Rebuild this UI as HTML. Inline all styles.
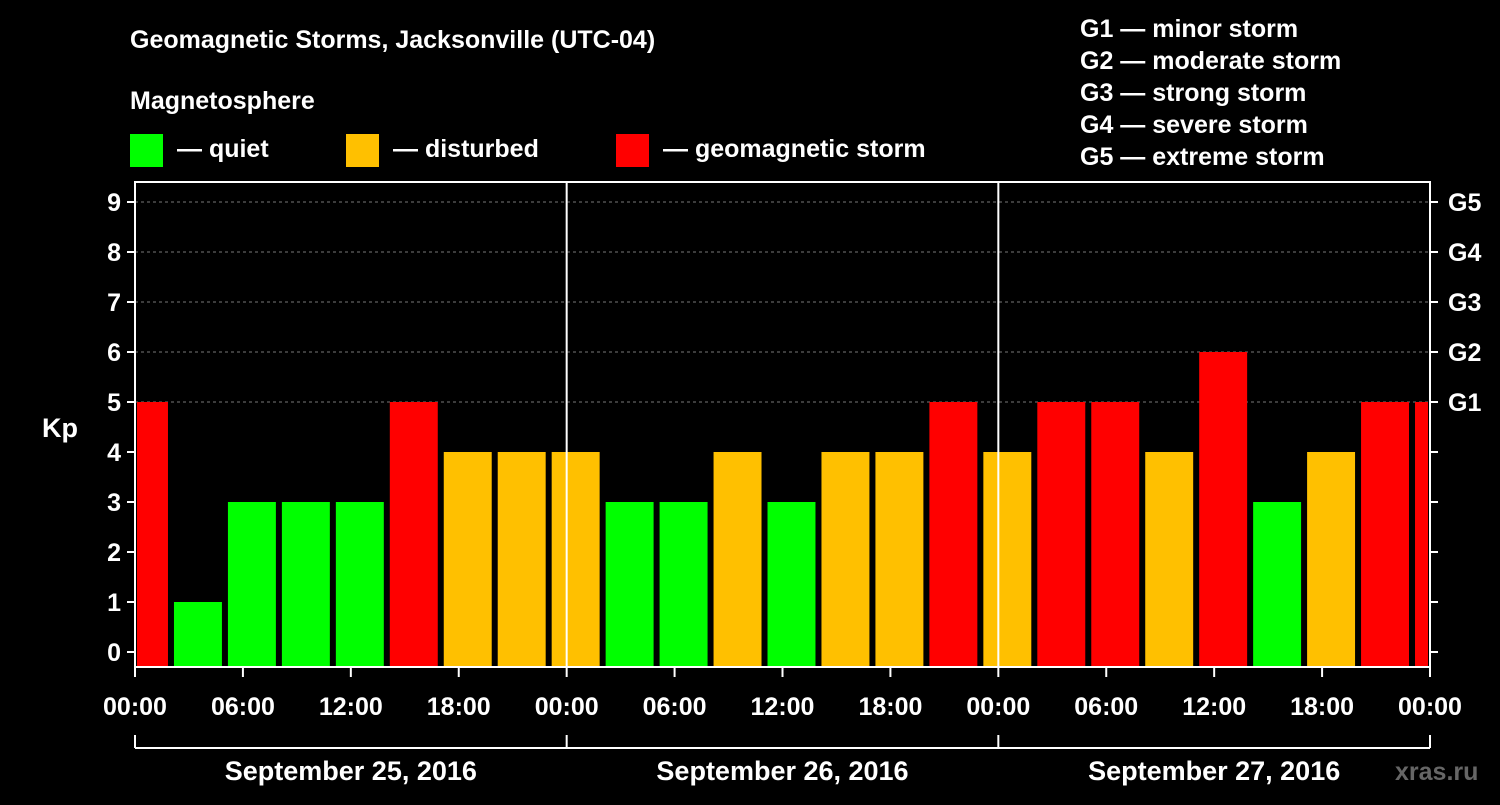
<!DOCTYPE html>
<html><head><meta charset="utf-8"><style>
body{margin:0;background:#000;width:1500px;height:800px;overflow:hidden}
text{font-family:"Liberation Sans",Arial,sans-serif;font-weight:bold;fill:#fff}
</style></head><body>
<svg id="chart" width="1500" height="800" xmlns="http://www.w3.org/2000/svg">
<text x="130" y="48" font-size="25">Geomagnetic Storms, Jacksonville (UTC-04)</text>
<text x="130" y="109" font-size="25">Magnetosphere</text>
<rect x="130" y="134" width="33" height="33" fill="#00ff00"/>
<text x="177" y="157" font-size="25">— quiet</text>
<rect x="346" y="134" width="33" height="33" fill="#ffc000"/>
<text x="393" y="157" font-size="25">— disturbed</text>
<rect x="616" y="134" width="33" height="33" fill="#ff0000"/>
<text x="663" y="157" font-size="25">— geomagnetic storm</text>
<g font-size="25">
<text x="1080" y="37">G1 — minor storm</text>
<text x="1080" y="69">G2 — moderate storm</text>
<text x="1080" y="101">G3 — strong storm</text>
<text x="1080" y="133">G4 — severe storm</text>
<text x="1080" y="165">G5 — extreme storm</text>
</g>
<g id="grid"></g><g id="bars"></g><g id="axes"></g>
<text x="42" y="437" font-size="27">Kp</text>
<text x="1395" y="780" font-size="25" fill="#666" style="fill:#666">xras.ru</text>
</svg>
<script>
const kpValues=[5,1,3,3,3,5,4,4,4,3,3,4,3,4,4,5,4,5,5,4,6,3,4,5,5];
const binStartHours=[-1,2,5,8,11,14,17,20,23,26,29,32,35,38,41,44,47,50,53,56,59,62,65,68,71];
const kpTicks=[0,1,2,3,4,5,6,7,8,9];
const gLabels=["G1","G2","G3","G4","G5"];
const timeLabels=["00:00","06:00","12:00","18:00","00:00","06:00","12:00","18:00","00:00","06:00","12:00","18:00","00:00"];
const dayLabels=["September 25, 2016","September 26, 2016","September 27, 2016"];
const X0=135,X1=1430,YT=182,YB=667;
const x=h=>X0+h*(X1-X0)/72;
const y=k=>652-50*k;
const NS="http://www.w3.org/2000/svg";
function mk(p,t,a){const e=document.createElementNS(NS,t);for(const k in a)e.setAttribute(k,a[k]);p.appendChild(e);return e;}
const grid=document.getElementById('grid'),bars=document.getElementById('bars'),axes=document.getElementById('axes');
for(let k=5;k<=9;k++){const l=mk(grid,'line',{x1:X0,x2:X1,y1:y(k),y2:y(k),stroke:'#777','stroke-dasharray':'3,3'});

}
kpValues.forEach((v,i)=>{
 let a=x(binStartHours[i])+3,b=x(binStartHours[i]+3)-3;
 a=Math.max(a,X0+2);b=Math.min(b,X1-2);
 const c=v>=5?'#ff0000':v>=4?'#ffc000':'#00ff00';
 const r=mk(bars,'rect',{x:a,y:y(v),width:b-a,height:YB-y(v),fill:c});
 
 
});
const border=mk(axes,'rect',{x:X0,y:YT,width:X1-X0,height:YB-YT,fill:'none',stroke:'#fff','stroke-width':2});


for(let d=1;d<3;d++){const l=mk(axes,'line',{x1:x(24*d),x2:x(24*d),y1:YT,y2:YB,stroke:'#fff','stroke-width':2});

}
kpTicks.forEach(k=>{
 mk(axes,'line',{x1:X0-8,x2:X0,y1:y(k),y2:y(k),stroke:'#fff','stroke-width':2});
 mk(axes,'line',{x1:X1,x2:X1+8,y1:y(k),y2:y(k),stroke:'#fff','stroke-width':2});
 const t=mk(axes,'text',{x:X0-14,y:y(k)+9,'text-anchor':'end','font-size':25});t.textContent=k;
 
 
});
gLabels.forEach((g,i)=>{const t=mk(axes,'text',{x:1448,y:y(5+i)+9,'font-size':25});t.textContent=g;
 
 });
timeLabels.forEach((s,i)=>{const h=i*6;
 mk(axes,'line',{x1:x(h),x2:x(h),y1:YB,y2:YB+10,stroke:'#fff','stroke-width':2});
 const t=mk(axes,'text',{x:x(h),y:715,'text-anchor':'middle','font-size':25});t.textContent=s;
 
 });
mk(axes,'line',{x1:X0,x2:X1,y1:748,y2:748,stroke:'#fff','stroke-width':2});
for(let d=0;d<=3;d++)mk(axes,'line',{x1:x(24*d),x2:x(24*d),y1:735,y2:748,stroke:'#fff','stroke-width':2});
dayLabels.forEach((s,i)=>{const t=mk(axes,'text',{x:x(24*i+12),y:780,'text-anchor':'middle','font-size':27});t.textContent=s;
 
 });
</script>
</body></html>
